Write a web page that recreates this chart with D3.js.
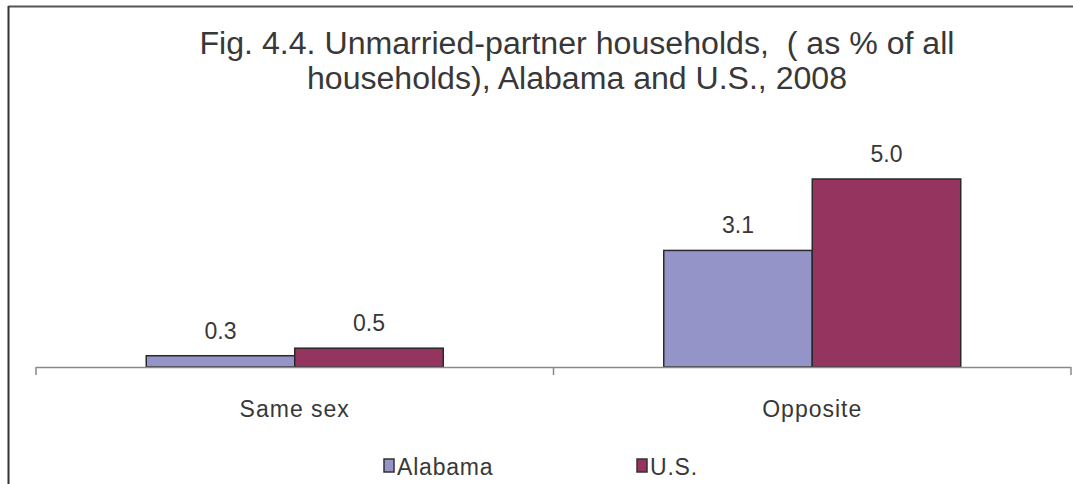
<!DOCTYPE html>
<html>
<head>
<meta charset="utf-8">
<script src="https://cdn.jsdelivr.net/npm/d3@7"></script>
<style>
  html, body { margin: 0; padding: 0; background: #fff; }
  svg { display: block; }
  .title { white-space: pre; }
</style>
</head>
<body>
<svg id="chart" width="1073" height="484"></svg>
<script>
// Unmarried-partner households as % of all households, 2008
const categories = ["Same sex", "Opposite"];
const seriesNames = ["Alabama", "U.S."];
const alabama = [0.3, 3.1];
const us = [0.5, 5.0];
const titleLines = [
  "Fig. 4.4. Unmarried-partner households,  ( as % of all",
  "households), Alabama and U.S., 2008"
];

const colors = { "Alabama": "#9494c8", "U.S.": "#963460" };
const textColor = "#383838";

const svg = d3.select("#chart");
const W = 1073, H = 484;

// Outer frame (top and left edges visible)
svg.append("line").attr("x1", 8.5).attr("x2", W).attr("y1", 6.5).attr("y2", 6.5)
  .attr("stroke", "#555").attr("stroke-width", 2);
svg.append("line").attr("x1", 8.5).attr("x2", 8.5).attr("y1", 6).attr("y2", H)
  .attr("stroke", "#333").attr("stroke-width", 2);

// Title
const titleY = [54, 89];
const titleLen = [755, 540];
titleLines.forEach((t, i) => {
  svg.append("text")
    .attr("class", "title")
    .attr("x", 577).attr("y", titleY[i])
    .attr("text-anchor", "middle")
    .attr("font-family", "Liberation Sans, Arial, sans-serif")
    .attr("font-size", 31)
    .attr("fill", textColor)
    .attr("textLength", titleLen[i])
    .attr("lengthAdjust", "spacingAndGlyphs")
    .text(t);
});

// Scales
const x0 = d3.scaleBand().domain(categories).range([36, 1071]).paddingInner(0).paddingOuter(0);
const innerPad = (517.5 - 297) / 517.5;
const x1 = d3.scaleBand().domain(seriesNames);
const groupWidth = x0.bandwidth() * (1 - innerPad);
x1.range([(x0.bandwidth() - groupWidth) / 2, (x0.bandwidth() + groupWidth) / 2]);
const y = d3.scaleLinear().domain([0, 5]).range([367, 179]);

const rows = categories.map((c, i) => ({
  category: c,
  values: [
    { series: "Alabama", value: alabama[i] },
    { series: "U.S.", value: us[i] }
  ]
}));

const groups = svg.append("g").selectAll("g")
  .data(rows).join("g")
  .attr("transform", d => `translate(${x0(d.category)},0)`);

groups.selectAll("rect")
  .data(d => d.values).join("rect")
  .attr("x", d => x1(d.series))
  .attr("y", d => y(d.value))
  .attr("width", x1.bandwidth())
  .attr("height", d => y(0) - y(d.value))
  .attr("fill", d => colors[d.series])
  .attr("stroke", "#2a2a2a")
  .attr("stroke-width", 1.5);

groups.selectAll("text.val")
  .data(d => d.values).join("text")
  .attr("class", "val")
  .attr("x", d => x1(d.series) + x1.bandwidth() / 2)
  .attr("y", d => y(d.value) - 17)
  .attr("text-anchor", "middle")
  .attr("font-family", "Liberation Sans, Arial, sans-serif")
  .attr("font-size", 23)
  .attr("fill", textColor)
  .text(d => d.value.toFixed(1));

// Category axis
const axis = svg.append("g").attr("transform", `translate(0,${y(0)})`);
axis.append("line").attr("x1", 36).attr("x2", 1071).attr("y1", 0.5).attr("y2", 0.5)
  .attr("stroke", "#8a8a8a").attr("stroke-width", 1.5);
const tickXs = categories.map(c => x0(c)).concat([x0.range()[1]]);
axis.selectAll("line.tick").data(tickXs).join("line")
  .attr("class", "tick")
  .attr("x1", d => d).attr("x2", d => d)
  .attr("y1", 0).attr("y2", 8)
  .attr("stroke", "#8a8a8a").attr("stroke-width", 1.5);
axis.selectAll("text").data(categories).join("text")
  .attr("x", d => x0(d) + x0.bandwidth() / 2)
  .attr("y", 50)
  .attr("text-anchor", "middle")
  .attr("font-family", "Liberation Sans, Arial, sans-serif")
  .attr("font-size", 23)
  .attr("letter-spacing", 1)
  .attr("fill", textColor)
  .text(d => d);

// Legend
const legendX = [384, 637];
const legend = svg.append("g").selectAll("g").data(seriesNames).join("g")
  .attr("transform", (d, i) => `translate(${legendX[i]},459)`);
legend.append("rect")
  .attr("x", 0).attr("y", 0).attr("width", 10).attr("height", 13)
  .attr("fill", d => colors[d])
  .attr("stroke", "#333").attr("stroke-width", 1.5);
legend.append("text")
  .attr("x", 13).attr("y", 16)
  .attr("font-family", "Liberation Sans, Arial, sans-serif")
  .attr("font-size", 23)
  .attr("letter-spacing", 0.8)
  .attr("fill", textColor)
  .text(d => d);
</script>
</body>
</html>
